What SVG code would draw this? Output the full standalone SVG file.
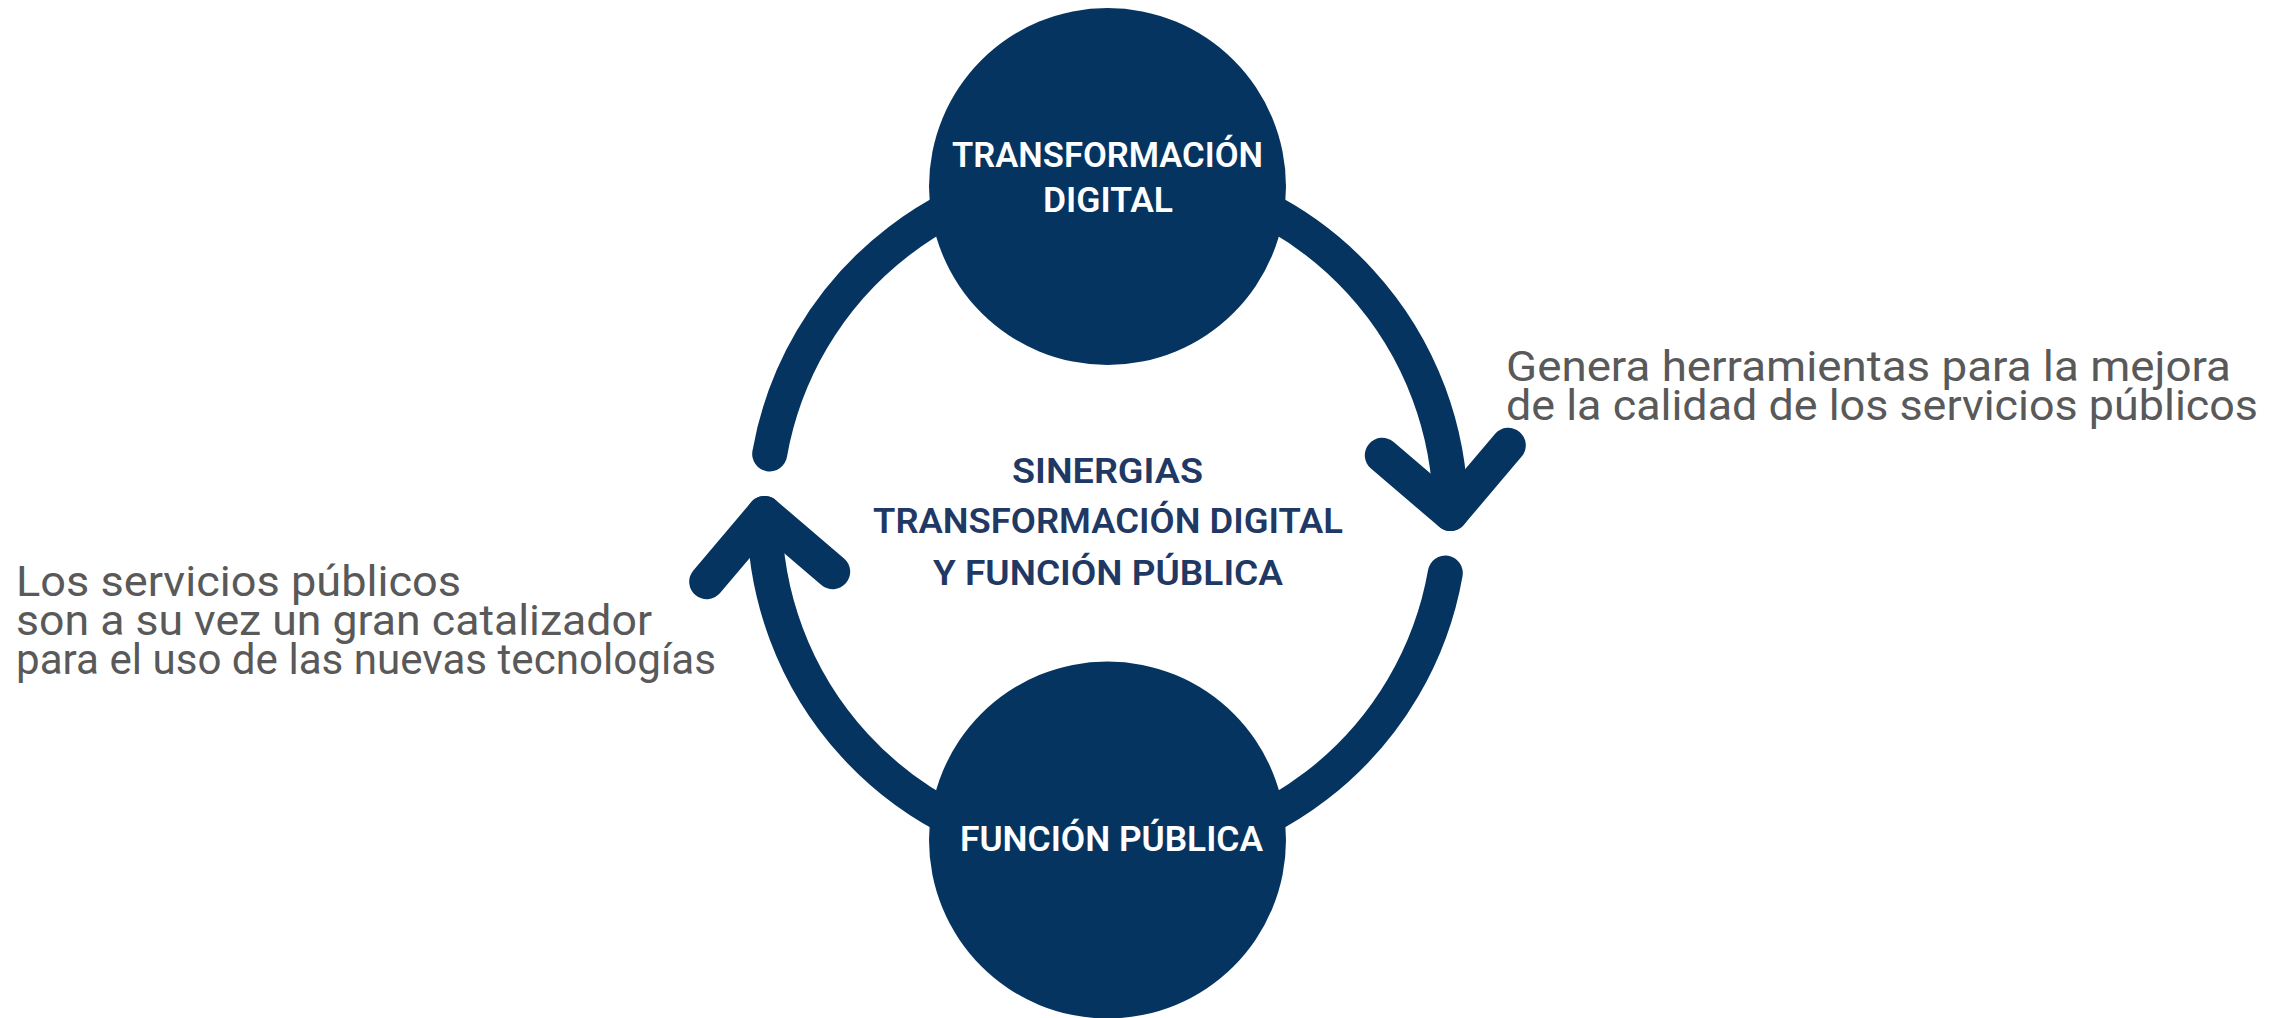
<svg xmlns="http://www.w3.org/2000/svg" width="2287" height="1018" viewBox="0 0 2287 1018">
<style>
.ring{fill:none;stroke:#063461;stroke-width:35;stroke-linecap:round;stroke-linejoin:round}
.node{fill:#063461}
.nt{font-family:Roboto,"Liberation Sans",sans-serif;font-weight:600;font-size:35px;fill:#ffffff;text-anchor:middle}
.ct{font-family:Roboto,"Liberation Sans",sans-serif;font-weight:600;font-size:35px;fill:#1f3864;text-anchor:middle}
.gt{font-family:Roboto,"Liberation Sans",sans-serif;font-weight:400;font-size:43px;fill:#595959}
</style>
<rect width="2287" height="1018" fill="#ffffff"/>
<g id="connectors">
<path class="ring" d="M769.7,453.9 A343,343 0 0 1 1450.5,513.5"/>
<polyline class="ring" points="1382.3,455.3 1450.5,513.5 1508.3,445.3"/>
<path class="ring" d="M1445.3,573.1 A343,343 0 0 1 764.5,513.5"/>
<polyline class="ring" points="706.7,581.7 764.5,513.5 832.7,571.7"/>
</g>
<g id="node-transformacion">
<circle class="node" cx="1107.5" cy="186.5" r="178.5"/>
<text class="nt" x="1107.5" y="167" textLength="311" lengthAdjust="spacingAndGlyphs">TRANSFORMACIÓN</text>
<text class="nt" x="1108" y="212" textLength="130" lengthAdjust="spacingAndGlyphs">DIGITAL</text>
</g>
<g id="node-funcion">
<circle class="node" cx="1107.5" cy="840" r="178.5"/>
<text class="nt" x="1111.5" y="851" textLength="303" lengthAdjust="spacingAndGlyphs">FUNCIÓN PÚBLICA</text>
</g>
<g id="center-label">
<text class="ct" x="1107.5" y="483" textLength="191" lengthAdjust="spacingAndGlyphs">SINERGIAS</text>
<text class="ct" x="1108" y="533" textLength="470" lengthAdjust="spacingAndGlyphs">TRANSFORMACIÓN DIGITAL</text>
<text class="ct" x="1108" y="585" textLength="350" lengthAdjust="spacingAndGlyphs">Y FUNCIÓN PÚBLICA</text>
</g>
<g id="label-right">
<text class="gt" x="1506" y="381" textLength="725" lengthAdjust="spacingAndGlyphs">Genera herramientas para la mejora</text>
<text class="gt" x="1506" y="420" textLength="752" lengthAdjust="spacingAndGlyphs">de la calidad de los servicios públicos</text>
</g>
<g id="label-left">
<text class="gt" x="16" y="596" textLength="445" lengthAdjust="spacingAndGlyphs">Los servicios públicos</text>
<text class="gt" x="16" y="635" textLength="636" lengthAdjust="spacingAndGlyphs">son a su vez un gran catalizador</text>
<text class="gt" x="16" y="674" textLength="700" lengthAdjust="spacingAndGlyphs">para el uso de las nuevas tecnologías</text>
</g>
</svg>
